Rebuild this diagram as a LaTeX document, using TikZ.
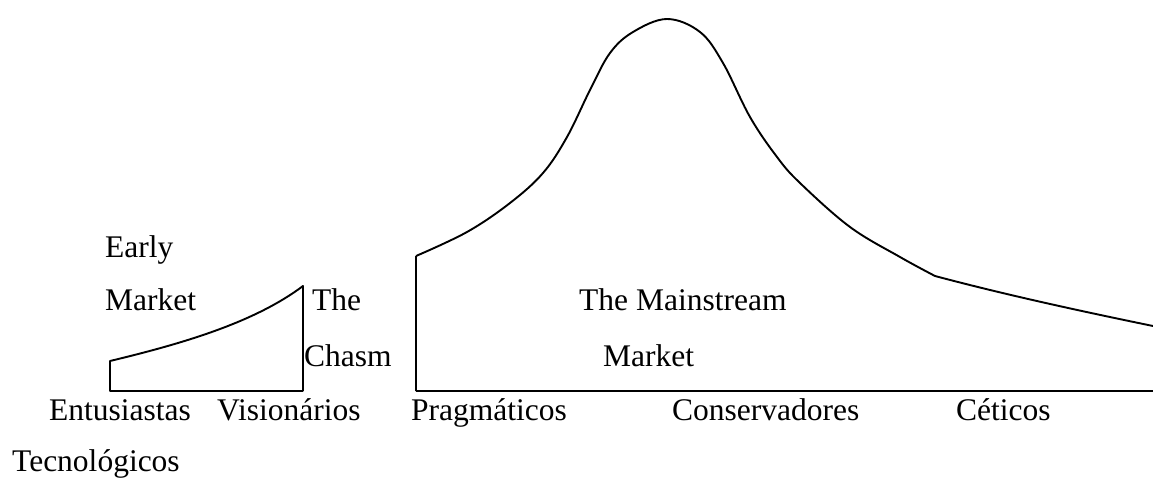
\documentclass[tikz,border=0pt]{standalone}
\usepackage{fontspec}
\setmainfont{Liberation Serif}
\usepackage{tikz}
\usetikzlibrary{positioning}

\begin{document}
\begin{tikzpicture}[
        x=1pt, y=-1pt,
        label/.style={
            inner sep=0pt,
            anchor=base west,
            font=\fontsize{31.5}{36}\selectfont
        },
        curve/.style={line width=1.9pt, line join=round},
        ground/.style={line width=2.6pt}
    ]

    \useasboundingbox (0,0) rectangle (1153,479);

    % early market
    \draw [curve] (303,391) -- (110,391) -- (110,361)
        .. controls (185,343) and (255,322) .. (303,286) -- (303,391);

    % mainstream market
    \draw [curve] (416,391) -- (416,256)
        plot [smooth, tension=0.6] coordinates {(416,256) (467,232) (510,203) (543,173)
            (567,137) (590,90) (610,53) (633,32) (667,19) (700,32) (723,63) (750,117)
            (777,157) (800,183) (850,227) (900,257) (935,276)}
        .. controls (1010,296) and (1090,313) .. (1153,326);
    \draw [ground] (416,391) -- (1153,391);
    \draw [ground] (110,391) -- (303,391);

    \node (early) [label] at (105,257) {Early};
    \node (earlymkt) [label] at (105,310) {Market};
    \node (the) [label] at (312,310) {The};
    \node (chasm) [label] at (304,366) {Chasm};
    \node (mainstream) [label] at (579,310) {The Mainstream};
    \node (mainmkt) [label] at (603,366) {Market};

    \node (entus) [label] at (49,420) {Entusiastas};
    \node (tecno) [label] at (12,471) {Tecnológicos};
    \node (vision) [label] at (217,420) {Visionários};
    \node (prag) [label] at (411,420) {Pragmáticos};
    \node (conserv) [label] at (672,420) {Conservadores};
    \node (cetic) [label] at (956,420) {Céticos};

\end{tikzpicture}
\end{document}
